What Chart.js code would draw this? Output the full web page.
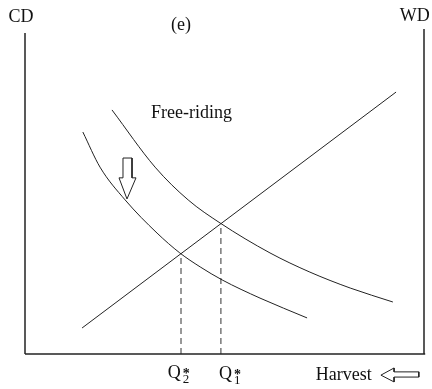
<!DOCTYPE html>
<html>
<head>
<meta charset="utf-8">
<script src="https://cdn.jsdelivr.net/npm/chart.js@4"></script>
<style>
  body { margin: 0; background: #fff; }
  #wrap { width: 432px; height: 389px; position: relative; }
</style>
</head>
<body>
<div id="wrap"><canvas id="myChart"></canvas></div>
<script>
// Harvest on x (0-100), value on y (0-100)
var leftAxis = [[0, 0], [0, 98.8]]
var rightAxis = [[100, 0], [100, 100]]
var bottomAxis = [[0, 0], [100.3, 0]]

// upward sloping line
var supplyLine = [[14.3, 8.0], [93.0, 80.6]]

// outer demand curve
var curveX1 = [21.8, 32.6, 40.9, 48.9, 61.4, 71.4, 81.5, 92.2]
var curveY1 = [75.1, 57.5, 47.4, 40.3, 31.1, 25.2, 20.3, 16.0]

// lower demand curve (free-riding)
var curveX2 = [14.5, 18.8, 25.1, 33.1, 38.8, 43.9, 49.4, 58.9, 70.7]
var curveY2 = [68.3, 57.5, 47.4, 37.2, 31.1, 26.8, 22.8, 17.2, 11.1]

// equilibria Q2*, Q1*
var eqX = [39.1, 49.1]
var eqY = [30.9, 40.1]

// hollow arrows (outlines)
var downArrow = [[24.56, 60.3], [26.82, 60.3], [26.82, 54.2], [27.82, 54.2], [25.56, 47.7],
  [23.56, 54.2], [24.56, 54.2], [24.56, 60.3]]
var leftArrow = [[89.2, -6.5], [92.5, -4.3], [92.5, -5.5], [98.7, -5.5], [98.7, -7.1],
  [92.5, -7.1], [92.5, -8.6], [89.2, -6.5]]

var ink = '#222'

function pts(arr) {
  return arr.map(p => ({ x: p[0], y: p[1] }))
}
function zip(xs, ys) {
  return xs.map((x, i) => ({ x: x, y: ys[i] }))
}
function line(data, extra) {
  return Object.assign({
    data: data,
    showLine: true,
    borderColor: ink,
    borderWidth: 1,
    pointRadius: 0,
    fill: false,
    clip: false,
  }, extra || {})
}

var datasets = [
  line(pts(leftAxis), { borderWidth: 1.5 }),
  line(pts(rightAxis), { borderWidth: 1.5 }),
  line(pts(bottomAxis), { borderWidth: 1.5 }),
  line(pts(supplyLine)),
  line(zip(curveX1, curveY1), { cubicInterpolationMode: 'monotone' }),
  line(zip(curveX2, curveY2), { cubicInterpolationMode: 'monotone' }),
  line(pts(downArrow)),
  line(pts(leftArrow)),
]
eqX.forEach((x, i) => {
  datasets.push(line([{ x: x, y: 0 }, { x: x, y: eqY[i] }], { borderDash: [6, 4], borderColor: '#333' }))
})

// text labels, anchored in data units
var labels = [
  { text: 'CD', x: -1.0, y: 102.2, align: 'center' },
  { text: 'WD', x: 97.7, y: 102.5, align: 'center' },
  { text: '(e)', x: 39.1, y: 99.7, align: 'center' },
  { text: 'Free-riding', x: 31.6, y: 72.6, align: 'left' },
  { text: 'Harvest', x: 72.9, y: -8.0, align: 'left' },
]
var qLabels = [
  { sub: '2', x: 35.8, y: -7.4 },
  { sub: '1', x: 48.6, y: -7.7 },
]

var textPlugin = {
  id: 'texts',
  afterDraw(chart) {
    var ctx = chart.ctx
    var xs = chart.scales.x, ys = chart.scales.y
    ctx.save()
    ctx.fillStyle = '#111'
    ctx.textBaseline = 'alphabetic'
    ctx.font = '18px "Liberation Serif", "Times New Roman", serif'
    labels.forEach(l => {
      ctx.textAlign = l.align
      ctx.fillText(l.text, xs.getPixelForValue(l.x), ys.getPixelForValue(l.y))
    })
    qLabels.forEach(q => {
      var px = xs.getPixelForValue(q.x), py = ys.getPixelForValue(q.y)
      ctx.textAlign = 'left'
      ctx.font = '18px "Liberation Serif", "Times New Roman", serif'
      ctx.fillText('Q', px, py)
      var w = ctx.measureText('Q').width
      ctx.font = 'bold 14px "Liberation Serif", serif'
      ctx.fillText('*', px + w + 2, py + 0)
      ctx.font = '13px "Liberation Serif", serif'
      ctx.fillText(q.sub, px + w + 2, py + 5)
    })
    ctx.restore()
  }
}

var chart = new Chart(document.getElementById('myChart').getContext('2d'), {
  type: 'scatter',
  data: { datasets: datasets },
  options: {
    responsive: true,
    maintainAspectRatio: false,
    animation: false,
    layout: { padding: { left: 25, right: 8, top: 29, bottom: 35 } },
    scales: {
      x: { type: 'linear', min: 0, max: 100, display: false },
      y: { type: 'linear', min: 0, max: 100, display: false },
    },
    plugins: { legend: { display: false }, tooltip: { enabled: false } },
  },
  plugins: [textPlugin]
})
</script>
</body>
</html>
